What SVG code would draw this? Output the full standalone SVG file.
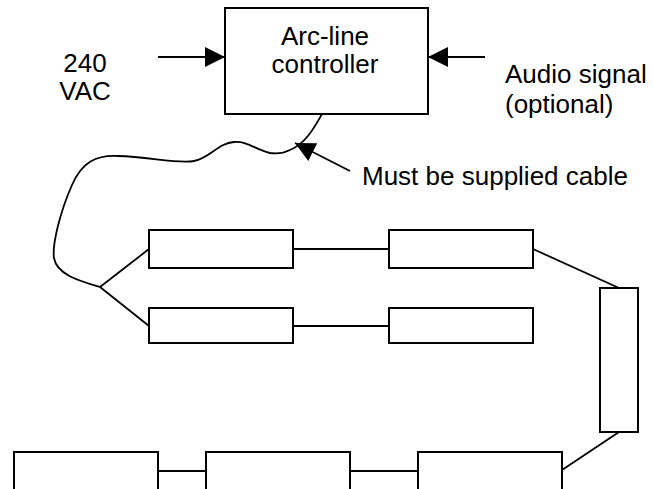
<svg xmlns="http://www.w3.org/2000/svg" width="653" height="489" viewBox="0 0 653 489">
<style>
.box{fill:#fff;stroke:#000;stroke-width:2}
.ln{fill:none;stroke:#000;stroke-width:1.8}
.t{font-family:"Liberation Sans",Arial,sans-serif;font-size:26px;fill:#000}
.c{text-anchor:middle}
</style>
<defs>
<marker id="ah" markerUnits="userSpaceOnUse" markerWidth="20" markerHeight="20" refX="20" refY="10" orient="auto">
<path d="M0,0 L20,10 L0,20 z" fill="#000"/>
</marker>
</defs>
<rect width="653" height="489" fill="#fff"/>
<g id="connectors">
<line class="ln" x1="158" y1="57" x2="225" y2="57" marker-end="url(#ah)"/>
<line class="ln" x1="485" y1="57" x2="428" y2="57" marker-end="url(#ah)"/>
<path class="ln" d="M322,114 C314,128 306,143 290,150 C282,154 276,154 270,153 C256,150 248,141 234,142 C218,143 210,158 194,161 C178,164 150,157 118,156 C96,155 82,162 72,185 C60,212 52,245 54,258 C57,275 80,281 100,287"/>
<line class="ln" x1="350" y1="171" x2="295" y2="143" marker-end="url(#ah)"/>
<line class="ln" x1="100" y1="287" x2="149" y2="249"/>
<line class="ln" x1="100" y1="287" x2="149" y2="326"/>
<line class="ln" x1="293" y1="249" x2="389" y2="249"/>
<line class="ln" x1="293" y1="326" x2="389" y2="326"/>
<line class="ln" x1="533" y1="249" x2="619" y2="288"/>
<line class="ln" x1="619" y1="432" x2="562" y2="470"/>
<line class="ln" x1="158" y1="471" x2="206" y2="471"/>
<line class="ln" x1="350" y1="471" x2="418" y2="471"/>
</g>
<g id="controller">
<rect class="box" x="225" y="8" width="203" height="106"/>
<text class="t c" x="325" y="45">Arc-line</text>
<text class="t c" x="325" y="73">controller</text>
</g>
<g id="label-240vac">
<text class="t c" x="85" y="72">240</text>
<text class="t c" x="85" y="100">VAC</text>
</g>
<g id="label-audio">
<text class="t" x="505" y="83">Audio signal</text>
<text class="t" x="505" y="113">(optional)</text>
</g>
<g id="label-cable">
<text class="t" x="362" y="185">Must be supplied cable</text>
</g>
<g id="box-r1a"><rect class="box" x="149" y="230" width="144" height="38"/></g>
<g id="box-r1b"><rect class="box" x="389" y="230" width="144" height="38"/></g>
<g id="box-r2a"><rect class="box" x="149" y="308" width="144" height="35"/></g>
<g id="box-r2b"><rect class="box" x="389" y="308" width="144" height="35"/></g>
<g id="box-vert"><rect class="box" x="600" y="288" width="38" height="144"/></g>
<g id="box-b1"><rect class="box" x="14" y="452" width="144" height="60"/></g>
<g id="box-b2"><rect class="box" x="206" y="452" width="144" height="60"/></g>
<g id="box-b3"><rect class="box" x="418" y="452" width="144" height="60"/></g>
</svg>
